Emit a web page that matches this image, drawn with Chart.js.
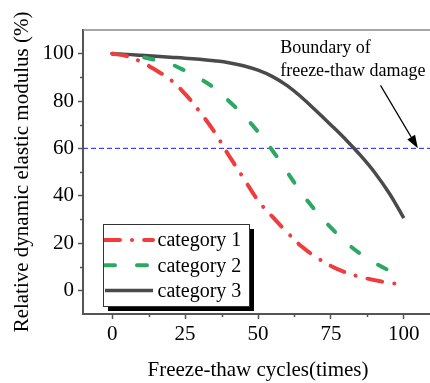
<!DOCTYPE html>
<html>
<head>
<meta charset="utf-8">
<script src="https://cdn.jsdelivr.net/npm/chart.js@4.4.0/dist/chart.umd.min.js"></script>
<style>
  html, body { margin: 0; padding: 0; background: #fff; overflow: hidden; }
  #wrap { width: 430px; height: 383px; overflow: hidden; }
</style>
</head>
<body>
<div id="wrap"><canvas id="chart" width="440" height="383"></canvas></div>
<script>
// data
const cycles = [0, 5, 10, 15, 20, 25, 30, 35, 40, 45, 50, 55, 60, 65, 70, 75, 80, 85, 90, 95, 100];
const category1 = [100, 99, 96.5, 93, 89, 83, 75.5, 67, 57, 47.5, 38, 31, 24.5, 18.5, 14, 10.3, 7.6, 5.7, 4.3, 3.2, 2.5];
const category2 = [100, 99.5, 98.6, 97.3, 95.6, 92.8, 89.5, 85.5, 80, 74, 67, 59, 50, 41, 33.3, 26.5, 20.5, 15.5, 11.6, 8.4, 6];
const category3 = [100, 99.7, 99.3, 98.9, 98.5, 98.1, 97.6, 97, 96.2, 94.9, 93, 90.3, 86.5, 81.5, 75.8, 69.9, 63.8, 57.2, 49.8, 41, 30.5];
const seriesNames = ["category 1", "category 2", "category 3"];
const boundaryLevel = 60;

const xTicks = [0, 25, 50, 75, 100];
const xMinor = [12.5, 37.5, 62.5, 87.5];
const yTicks = [0, 20, 40, 60, 80, 100];
const yMinor = [10, 30, 50, 70, 90];

const serif = "'Liberation Serif', 'Times New Roman', serif";
const axisColor = "#555";

function points(values) {
  return cycles.map((c, i) => ({ x: c, y: values[i] }));
}

// top frame line + minor ticks
const framePlugin = {
  id: "frame",
  afterDraw(chart) {
    const { ctx, chartArea } = chart;
    const xs = chart.scales.x, ys = chart.scales.y;
    ctx.save();
    ctx.strokeStyle = "#888";
    ctx.lineWidth = 1.5;
    ctx.beginPath();
    ctx.moveTo(chartArea.left, chartArea.top);
    ctx.lineTo(chartArea.right, chartArea.top);
    ctx.stroke();
    ctx.strokeStyle = axisColor;
    ctx.lineWidth = 1.5;
    ctx.beginPath();
    xMinor.forEach(v => {
      const px = Math.round(xs.getPixelForValue(v)) + 0.5;
      ctx.moveTo(px, chartArea.bottom);
      ctx.lineTo(px, chartArea.bottom + 3);
    });
    yMinor.forEach(v => {
      const py = Math.round(ys.getPixelForValue(v)) + 0.5;
      ctx.moveTo(chartArea.left, py);
      ctx.lineTo(chartArea.left - 3, py);
    });
    ctx.stroke();
    ctx.restore();
  }
};

// annotation text and arrow
const notePlugin = {
  id: "note",
  afterDatasetsDraw(chart) {
    const { ctx } = chart;
    const xs = chart.scales.x, ys = chart.scales.y;
    ctx.save();
    ctx.fillStyle = "#000";
    ctx.font = "18px " + serif;
    ctx.textAlign = "left";
    ctx.textBaseline = "alphabetic";
    const tx = xs.getPixelForValue(57.6), ty = ys.getPixelForValue(100.2);
    ctx.fillText("Boundary of", tx, ty);
    ctx.fillText("freeze-thaw damage", tx, ty + 22.5);

    const x0 = xs.getPixelForValue(92), y0 = ys.getPixelForValue(86.6);
    const x1 = xs.getPixelForValue(104.8), y1 = ys.getPixelForValue(boundaryLevel);
    const ang = Math.atan2(y1 - y0, x1 - x0);
    const hl = 13, hw = 4.5;
    ctx.strokeStyle = "#000";
    ctx.lineWidth = 1.2;
    ctx.beginPath();
    ctx.moveTo(x0, y0);
    ctx.lineTo(x1 - hl * Math.cos(ang), y1 - hl * Math.sin(ang));
    ctx.stroke();
    ctx.beginPath();
    ctx.moveTo(x1, y1);
    ctx.lineTo(x1 - hl * Math.cos(ang) + hw * Math.sin(ang), y1 - hl * Math.sin(ang) - hw * Math.cos(ang));
    ctx.lineTo(x1 - hl * Math.cos(ang) - hw * Math.sin(ang), y1 - hl * Math.sin(ang) + hw * Math.cos(ang));
    ctx.closePath();
    ctx.fill();
    ctx.restore();
  }
};

// boxed legend with shadow inside the plot
const legendPlugin = {
  id: "boxLegend",
  afterDatasetsDraw(chart) {
    const { ctx, chartArea } = chart;
    const bx = chartArea.left + 20, by = chartArea.bottom - 90, bw = 146, bh = 82;
    ctx.save();
    ctx.fillStyle = "#000";
    ctx.fillRect(bx + 5, by + 5, bw, bh);
    ctx.fillStyle = "#fff";
    ctx.fillRect(bx, by, bw, bh);
    ctx.strokeStyle = "#333";
    ctx.lineWidth = 1;
    ctx.strokeRect(bx + 0.5, by + 0.5, bw, bh);

    seriesNames.forEach((name, i) => {
      const ds = chart.data.datasets[i];
      const ly = by + 16 + i * 25.3;
      ctx.save();
      ctx.beginPath();
      ctx.rect(bx + 1, by + 1, bw - 1, bh - 1);
      ctx.clip();
      ctx.strokeStyle = ds.borderColor;
      ctx.lineWidth = ds.borderWidth;
      ctx.lineCap = ds.borderCapStyle || "butt";
      ctx.setLineDash(ds.borderDash || []);
      ctx.beginPath();
      ctx.moveTo(bx + 2, ly);
      ctx.lineTo(bx + 50, ly);
      ctx.stroke();
      ctx.restore();
      ctx.fillStyle = "#000";
      ctx.font = "20px " + serif;
      ctx.textAlign = "left";
      ctx.textBaseline = "middle";
      ctx.fillText(name, bx + 54.5, ly + 1);
    });
    ctx.restore();
  }
};

new Chart(document.getElementById("chart"), {
  type: "line",
  data: {
    datasets: [
      {
        label: seriesNames[0],
        data: points(category1),
        borderColor: "#f03c3c",
        borderWidth: 4,
        borderDash: [15, 12, 0.1, 12],
        borderCapStyle: "round",
      },
      {
        label: seriesNames[1],
        data: points(category2),
        borderColor: "#2ca862",
        borderWidth: 4,
        borderDash: [10, 22],
        borderCapStyle: "round",
      },
      {
        label: seriesNames[2],
        data: points(category3),
        borderColor: "#4a4a4a",
        borderWidth: 3.5,
      },
      {
        label: "boundary",
        data: [{ x: -10, y: boundaryLevel }, { x: 110, y: boundaryLevel }],
        borderColor: "#1a1aff",
        borderWidth: 1,
        borderDash: [5, 3],
        tension: 0,
      },
    ],
  },
  options: {
    responsive: false,
    devicePixelRatio: 1,
    animation: false,
    layout: { padding: { left: 0, right: 7, top: 30, bottom: 0 } },
    elements: {
      point: { radius: 0 },
      line: { tension: 0.4, fill: false },
    },
    plugins: {
      legend: { display: false },
      tooltip: { enabled: false },
    },
    scales: {
      x: {
        type: "linear",
        min: -10,
        max: 110,
        afterBuildTicks: s => { s.ticks = xTicks.map(v => ({ value: v })); },
        afterFit: s => { s.height = 69; },
        grid: { drawOnChartArea: false, tickLength: 5, tickColor: axisColor, tickWidth: 1.5 },
        border: { color: axisColor, width: 2 },
        ticks: { color: "#000", font: { family: serif, size: 21 }, padding: 3, maxRotation: 0 },
        title: {
          display: true,
          text: "Freeze-thaw cycles(times)",
          color: "#000",
          font: { family: serif, size: 21 },
          padding: { top: 0, bottom: 0 },
        },
      },
      y: {
        min: -10,
        max: 110,
        afterBuildTicks: s => { s.ticks = yTicks.map(v => ({ value: v })); },
        afterFit: s => { s.width = 83; },
        grid: { drawOnChartArea: false, tickLength: 5, tickColor: axisColor, tickWidth: 1.5 },
        border: { color: axisColor, width: 2 },
        ticks: { color: "#000", font: { family: serif, size: 21 }, padding: 4 },
        title: {
          display: true,
          text: "Relative dynamic elastic modulus (%)",
          color: "#000",
          font: { family: serif, size: 21 },
          padding: { top: 10, bottom: 0 },
        },
      },
    },
  },
  plugins: [framePlugin, notePlugin, legendPlugin],
});
</script>
</body>
</html>
